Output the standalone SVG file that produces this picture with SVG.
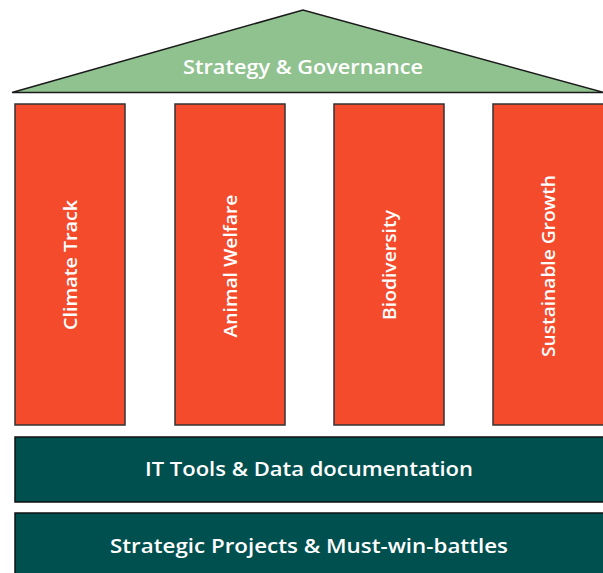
<svg xmlns="http://www.w3.org/2000/svg" width="603" height="573" viewBox="0 0 603 573">
<style>
.roof{fill:#8fc28f;stroke:#1a1a1a;stroke-width:1.5}
.pillar{fill:#f44b2d;stroke:#333;stroke-width:1.5}
.band{fill:#00504f;stroke:#111;stroke-width:1.5}
text{font-family:"Open Sans","DejaVu Sans",sans-serif;fill:#ffffff;font-weight:600;text-anchor:middle;dominant-baseline:central}
.t{font-size:19px}
.p{font-size:18px}
</style>
<rect width="603" height="573" fill="#ffffff"/>
<g id="roof">
<polygon class="roof" points="12,92.5 303,10 604,92.5"/>
<text class="t" x="303" y="67" textLength="240" lengthAdjust="spacingAndGlyphs">Strategy &amp; Governance</text>
</g>
<g id="pillar-climate">
<rect class="pillar" x="15" y="104" width="110" height="321"/>
<text class="p" transform="translate(70,265) rotate(-90)" textLength="130" lengthAdjust="spacingAndGlyphs">Climate Track</text>
</g>
<g id="pillar-animal">
<rect class="pillar" x="175" y="104" width="110" height="321"/>
<text class="p" transform="translate(230,266) rotate(-90)" textLength="143" lengthAdjust="spacingAndGlyphs">Animal Welfare</text>
</g>
<g id="pillar-biodiversity">
<rect class="pillar" x="334" y="104" width="110" height="321"/>
<text class="p" transform="translate(389,265) rotate(-90)" textLength="110" lengthAdjust="spacingAndGlyphs">Biodiversity</text>
</g>
<g id="pillar-growth">
<rect class="pillar" x="493" y="104" width="112" height="321"/>
<text class="p" transform="translate(548,266) rotate(-90)" textLength="182" lengthAdjust="spacingAndGlyphs">Sustainable Growth</text>
</g>
<g id="band-it">
<rect class="band" x="15" y="437" width="590" height="65"/>
<text class="t" x="309" y="469" textLength="328" lengthAdjust="spacingAndGlyphs">IT Tools &amp; Data documentation</text>
</g>
<g id="band-projects">
<rect class="band" x="15" y="513" width="590" height="65"/>
<text class="t" x="309" y="546" textLength="398" lengthAdjust="spacingAndGlyphs">Strategic Projects &amp; Must-win-battles</text>
</g>
<g id="connectors"></g>
</svg>
